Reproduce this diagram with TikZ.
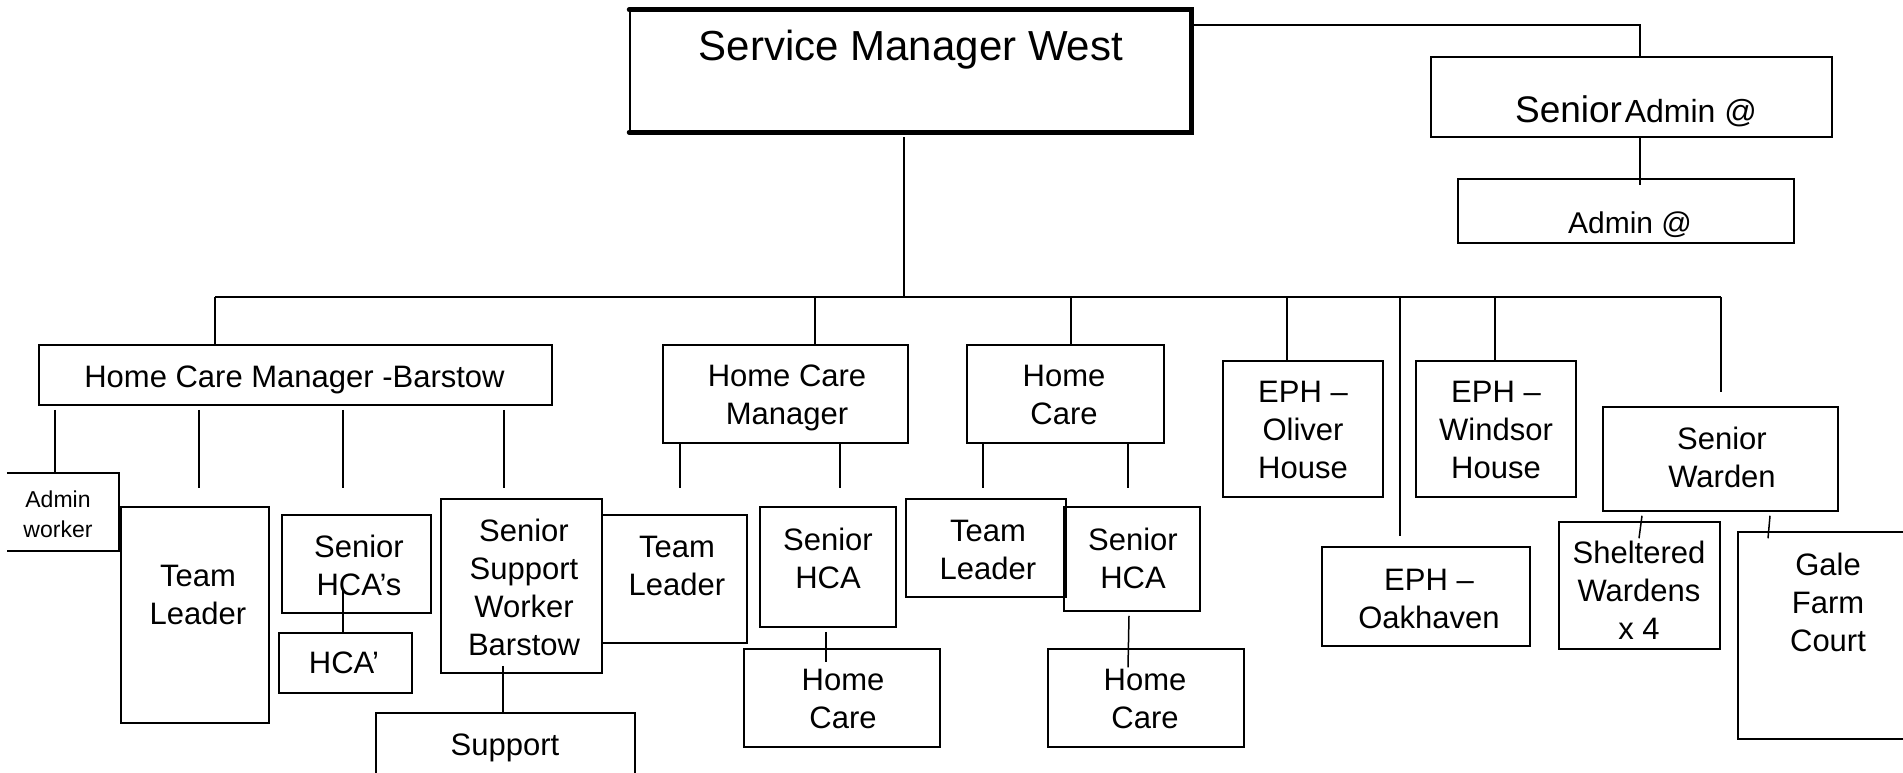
\documentclass[tikz,border=0pt]{standalone}
\usepackage{fontspec}
\setmainfont{Liberation Sans}
\usetikzlibrary{calc}
\tikzset{
  bx/.style={draw, line width=1.5pt, inner sep=0pt},
  ln/.style={line width=1.5pt},
  tx/.style={font=\fontsize{31pt}{38pt}\selectfont, align=center, inner sep=0pt},
  smalltx/.style={font=\fontsize{23pt}{30pt}\selectfont, align=center, inner sep=0pt},
  thickbd/.style={line width=5pt, line cap=round, line join=miter},
}
\begin{document}
\begin{tikzpicture}[x=1pt,y=-1pt]
\useasboundingbox (0,0) rectangle (1903,772);
\clip (0,0) rectangle (1903,772);

% ---------- top ----------
\node[bx, minimum width=561pt, minimum height=121pt] (sm) at (910.5,71) {};
\draw[thickbd] (sm.north west) -- (sm.north east) -- (sm.south east) -- (sm.south west);
\node[font=\fontsize{42pt}{50pt}\selectfont, inner sep=0pt, anchor=base] (tsm) at (911,60) {Service Manager West};

\node[bx, minimum width=401pt, minimum height=80pt] (sadmin) at (1631.5,97) {};
\node[inner sep=0pt, anchor=base] (tsadmin) at (1636,122) {{\fontsize{37pt}{44pt}\selectfont Senior} {\fontsize{32pt}{38pt}\selectfont Admin @}};

\node[bx, minimum width=336pt, minimum height=64pt] (admin) at (1626,211) {};
\node[font=\fontsize{30pt}{36pt}\selectfont, inner sep=0pt, anchor=base] (tadmin) at (1630,233) {Admin @};

% ---------- second row ----------
\node[bx, minimum width=513pt, minimum height=60pt] (hcmb) at (295.5,375) {};
\node[tx, anchor=base] (thcmb) at (294.5,387) {Home Care Manager -Barstow};

\node[bx, minimum width=245pt, minimum height=98pt] (hcm) at (785.5,394) {};
\node[tx] (thcm) at (787,398) {Home Care\\Manager};

\node[bx, minimum width=197pt, minimum height=98pt] (hc) at (1065.5,394) {};
\node[tx] (thc) at (1064,395) {Home\\Care};

\node[bx, minimum width=160pt, minimum height=136pt] (ephO) at (1303,429) {};
\node[tx] (tephO) at (1303,430) {EPH –\\Oliver\\House};

\node[bx, minimum width=160pt, minimum height=136pt] (ephW) at (1496,429) {};
\node[tx] (tephW) at (1496,430) {EPH –\\Windsor\\House};

\node[bx, minimum width=208pt, minimum height=99pt] (ephK) at (1426,596.5) {};
\node[tx] (tephK) at (1429,599) {EPH –\\Oakhaven};

\node[bx, minimum width=235pt, minimum height=104pt] (sw) at (1720.5,459) {};
\node[tx] (tsw) at (1722,457.5) {Senior\\Warden};

% ---------- third row ----------
\node[inner sep=0pt, minimum width=112pt, minimum height=78pt] (adminW) at (63,512) {};
\draw[ln] (adminW.north west) -- (adminW.north east) -- (adminW.south east) -- (adminW.south west);
\node[smalltx] (tadminW) at (58,514) {Admin\\worker};

\node[bx, minimum width=148pt, minimum height=216pt] (tlA) at (195,615) {};
\node[tx] (ttlA) at (198,595) {Team\\Leader};

\node[bx, minimum width=149pt, minimum height=98pt] (shcas) at (356.5,564) {};
\node[tx] (tshcas) at (359,565) {Senior\\HCA’s};

\node[bx, minimum width=133pt, minimum height=60pt] (hcaP) at (345.5,663) {};
\node[tx] (thcaP) at (344,663) {HCA’};

\node[bx, minimum width=161pt, minimum height=174pt] (ssw) at (521.5,586) {};
\node[tx] (tssw) at (524,587.5) {Senior\\Support\\Worker\\Barstow};

\node[bx, minimum width=259pt, minimum height=87pt] (sup) at (505.5,756.5) {};
\node[tx, anchor=base] (tsup) at (505,755) {Support};

\node[bx, minimum width=145pt, minimum height=128pt] (tlB) at (674.5,579) {};
\node[tx] (ttlB) at (677,565.5) {Team\\Leader};

\node[bx, minimum width=136pt, minimum height=120pt] (shcaB) at (828,567) {};
\node[tx] (tshcaB) at (828,558) {Senior\\HCA};

\node[bx, minimum width=196pt, minimum height=98pt] (hcB) at (842,698) {};
\node[tx] (thcB) at (843,699) {Home\\Care};

\node[bx, minimum width=160pt, minimum height=98pt] (tlC) at (986,548) {};
\node[tx] (ttlC) at (988,550) {Team\\Leader};

\node[bx, minimum width=136pt, minimum height=104pt] (shcaC) at (1132,559) {};
\node[tx] (tshcaC) at (1133,558) {Senior\\HCA};

\node[bx, minimum width=196pt, minimum height=98pt] (hcC) at (1146,698) {};
\node[tx] (thcC) at (1145,699) {Home\\Care};

\node[bx, minimum width=161pt, minimum height=127pt] (shelt) at (1639.5,585.5) {};
\node[tx] (tshelt) at (1639,590) {Sheltered\\Wardens\\x 4};

\node[bx, minimum width=182pt, minimum height=207pt] (gale) at (1829,635.5) {};
\node[tx] (tgale) at (1828,602.5) {Gale\\Farm\\Court};

% ---------- connectors ----------
\coordinate (bS) at (904,297);
\coordinate (bA) at (215,297);
\coordinate (bB) at (815,297);
\coordinate (bC) at (1071,297);
\coordinate (bD) at (1287,297);
\coordinate (bE) at (1400,297);
\coordinate (bF) at (1495,297);
\coordinate (bG) at (1721,297);
\coordinate (mk1) at (647,297);
\coordinate (mk2) at (664,297);

\draw[ln] ([xshift=-6.5pt,yshift=-5pt]sm.south) -- (bS);
\draw[ln] (bA) -- (bG);
\draw[line width=2.5pt] (mk1) -- (mk2);
\draw[ln] (bA) -- (bA |- hcmb.north);
\draw[ln] (bB) -- (bB |- hcm.north);
\draw[ln] (bC) -- (bC |- hc.north);
\draw[ln] (bD) -- (bD |- ephO.north);
\draw[ln] (bE) -- ($(bE |- ephK.north)+(0,-10)$);
\draw[ln] (bF) -- (bF |- ephW.north);
\draw[ln] (bG) -- ($(bG |- sw.north)+(0,-14)$);

\draw[ln] ([yshift=-15pt]sm.north east) -| ([xshift=8.5pt]sadmin.north);
\coordinate (aL) at (1640,185);
\draw[ln] (sadmin.south -| aL) -- (aL);

\coordinate (x55) at (55,0);
\coordinate (x199) at (199,0);
\coordinate (x343) at (343,0);
\coordinate (x504) at (504,0);
\coordinate (x503) at (503,0);
\coordinate (x680) at (680,0);
\coordinate (x840) at (840,0);
\coordinate (x826) at (826,0);
\coordinate (x983) at (983,0);
\coordinate (x1128) at (1128,0);

\draw[ln, shorten <=4pt] (hcmb.south -| x55) -- (x55 |- adminW.north);
\draw[ln, shorten <=4pt, shorten >=18pt] (hcmb.south -| x199) -- (x199 |- tlA.north);
\draw[ln, shorten <=4pt, shorten >=26pt] (hcmb.south -| x343) -- (x343 |- shcas.north);
\draw[ln, shorten <=4pt, shorten >=10pt] (hcmb.south -| x504) -- (x504 |- ssw.north);

\draw[ln, shorten >=26pt] (hcm.south -| x680) -- (x680 |- tlB.north);
\draw[ln, shorten >=18pt] (hcm.south -| x840) -- (x840 |- shcaB.north);
\draw[ln, shorten >=10pt] (hc.south -| x983) -- (x983 |- tlC.north);
\draw[ln, shorten >=18pt] (hc.south -| x1128) -- (x1128 |- shcaC.north);

\draw[ln] ($(shcas.south -| x343)+(0,-26)$) -- (x343 |- hcaP.north);
\draw[ln] ($(ssw.south -| x503)+(0,-8)$) -- (x503 |- sup.north);
\draw[ln] ($(shcaB.south -| x826)+(0,4)$) -- ($(x826 |- hcB.north)+(0,14)$);
\draw[ln] ($(shcaC.south)+(-3,4)$) -- ($(hcC.north)+(-18,19)$);
\draw[ln] ($(sw.south)+(-78.5,4)$) -- ($(shelt.north)+(-0.5,17)$);
\draw[ln] ($(sw.south)+(49.5,4)$) -- ($(gale.north)+(-61,7)$);
\end{tikzpicture}
\end{document}
